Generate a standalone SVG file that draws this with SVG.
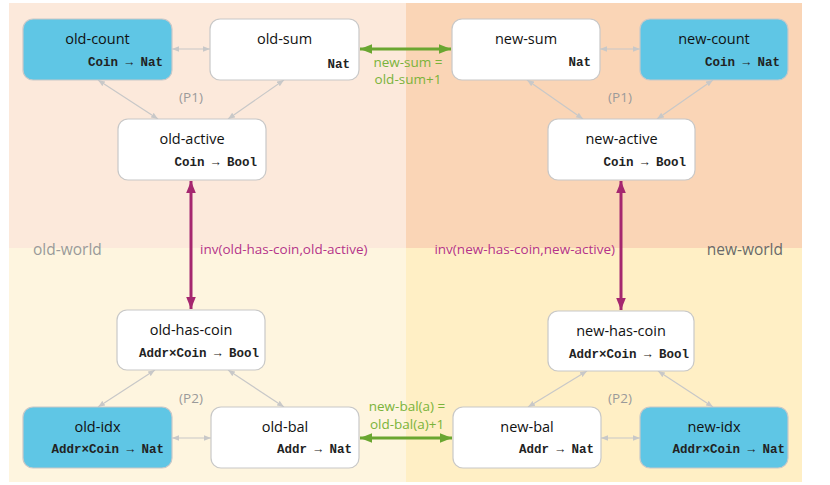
<svg xmlns="http://www.w3.org/2000/svg" width="830" height="485" viewBox="0 0 830 485">
<defs>
<style>
.node rect{stroke:#c8c8c8;stroke-width:1.2}
.w{fill:#ffffff}
.b{fill:#5fc6e5}
.t{font-family:"Open Sans","Noto Sans",sans-serif;font-size:14.5px;fill:#111;text-anchor:middle}
.ty{font-family:"Liberation Mono","Courier New",monospace;font-size:12.5px;font-weight:bold;fill:#222;text-anchor:end}
.g{stroke:#c8c8c8;stroke-width:1.2;fill:none;marker-start:url(#ga);marker-end:url(#ga)}
.p{stroke:#a5276f;stroke-width:3;fill:none;marker-start:url(#pa);marker-end:url(#pa)}
.gr{stroke:#6aa630;stroke-width:3;fill:none;marker-start:url(#gra);marker-end:url(#gra)}
.lbl{font-family:"Open Sans","Noto Sans",sans-serif;font-size:13.5px}
</style>
<marker id="ga" viewBox="0 0 10 10" refX="10" refY="5" markerWidth="7" markerHeight="7" orient="auto-start-reverse" markerUnits="userSpaceOnUse"><path d="M0,1 L10,5 L0,9 z" fill="#c8c8c8"/></marker>
<marker id="pa" viewBox="0 0 10 10" refX="10" refY="5" markerWidth="12" markerHeight="12" orient="auto-start-reverse" markerUnits="userSpaceOnUse"><path d="M0,1 L10,5 L0,9 z" fill="#a5276f"/></marker>
<marker id="gra" viewBox="0 0 10 10" refX="10" refY="5" markerWidth="12" markerHeight="12" orient="auto-start-reverse" markerUnits="userSpaceOnUse"><path d="M0,1 L10,5 L0,9 z" fill="#6aa630"/></marker>
</defs>
<rect width="830" height="485" fill="#ffffff"/>
<g id="background">
<rect x="9" y="3" width="397" height="245" fill="#fce9db"/>
<rect x="406" y="3" width="396" height="245" fill="#fad5b6"/>
<rect x="9" y="248" width="397" height="234" fill="#fef5df"/>
<rect x="406" y="248" width="396" height="234" fill="#ffefc5"/>
<text x="33" y="255" class="lbl" style="font-size:15.5px" fill="#9a9a9a">old-world</text>
<text x="783" y="255" class="lbl" style="font-size:15.5px" fill="#6a6a6a" text-anchor="end">new-world</text>
</g>
<g id="connectors">
<line class="g" x1="172" y1="49" x2="210" y2="49"/>
<line class="g" x1="98" y1="80" x2="158" y2="119"/>
<line class="g" x1="284" y1="80" x2="228" y2="119"/>
<text x="191" y="102" class="lbl" fill="#9a9a9a" text-anchor="middle">(P1)</text>
<line class="g" x1="600" y1="49" x2="640" y2="49"/>
<line class="g" x1="527" y1="80" x2="583" y2="119"/>
<line class="g" x1="713" y1="80" x2="657" y2="119"/>
<text x="620" y="102" class="lbl" fill="#9a9a9a" text-anchor="middle">(P1)</text>
<line class="g" x1="172" y1="438" x2="211" y2="438"/>
<line class="g" x1="155" y1="370" x2="98" y2="407"/>
<line class="g" x1="228" y1="370" x2="284" y2="407"/>
<text x="191" y="403" class="lbl" fill="#9a9a9a" text-anchor="middle">(P2)</text>
<line class="g" x1="601" y1="438" x2="640" y2="438"/>
<line class="g" x1="587" y1="371" x2="528" y2="407"/>
<line class="g" x1="658" y1="371" x2="713" y2="407"/>
<text x="620" y="403" class="lbl" fill="#9a9a9a" text-anchor="middle">(P2)</text>
<line class="p" x1="191" y1="181" x2="191" y2="309"/>
<text x="200" y="254" class="lbl" fill="#b5338a">inv(old-has-coin,old-active)</text>
<line class="p" x1="621" y1="181" x2="621" y2="310"/>
<text x="615" y="254" class="lbl" fill="#b5338a" text-anchor="end">inv(new-has-coin,new-active)</text>
<line class="gr" x1="360" y1="49" x2="451" y2="49"/>
<text x="408" y="67" class="lbl" fill="#7ab33a" text-anchor="middle">new-sum =</text>
<text x="408" y="84" class="lbl" fill="#7ab33a" text-anchor="middle">old-sum+1</text>
<line class="gr" x1="360" y1="438" x2="452" y2="438"/>
<text x="407" y="411" class="lbl" fill="#7ab33a" text-anchor="middle">new-bal(a) =</text>
<text x="407" y="429" class="lbl" fill="#7ab33a" text-anchor="middle">old-bal(a)+1</text>
</g>
<g id="old-count" class="node"><rect class="b" x="23" y="19" width="149" height="61" rx="10"/><text class="t" x="97.5" y="44">old-count</text><text class="ty" x="163" y="66">Coin → Nat</text></g>
<g id="old-sum" class="node"><rect class="w" x="210" y="19" width="149" height="61" rx="10"/><text class="t" x="284.5" y="44">old-sum</text><text class="ty" x="350" y="68">Nat</text></g>
<g id="old-active" class="node"><rect class="w" x="118" y="119" width="148" height="61" rx="10"/><text class="t" x="192" y="144">old-active</text><text class="ty" x="257" y="166">Coin → Bool</text></g>
<g id="new-sum" class="node"><rect class="w" x="452" y="19" width="148" height="61" rx="10"/><text class="t" x="526" y="44">new-sum</text><text class="ty" x="591" y="66">Nat</text></g>
<g id="new-count" class="node"><rect class="b" x="640" y="19" width="148" height="61" rx="10"/><text class="t" x="714" y="44">new-count</text><text class="ty" x="780" y="66">Coin → Nat</text></g>
<g id="new-active" class="node"><rect class="w" x="548" y="119" width="147" height="61" rx="10"/><text class="t" x="621.5" y="144">new-active</text><text class="ty" x="686" y="166">Coin → Bool</text></g>
<g id="old-has-coin" class="node"><rect class="w" x="117" y="310" width="148" height="60" rx="10"/><text class="t" x="191" y="335">old-has-coin</text><text class="ty" x="259" y="357">Addr×Coin → Bool</text></g>
<g id="new-has-coin" class="node"><rect class="w" x="548" y="311" width="146" height="60" rx="10"/><text class="t" x="621" y="336">new-has-coin</text><text class="ty" x="689" y="358">Addr×Coin → Bool</text></g>
<g id="old-idx" class="node"><rect class="b" x="23" y="407" width="149" height="61" rx="10"/><text class="t" x="97.5" y="432">old-idx</text><text class="ty" x="164" y="453">Addr×Coin → Nat</text></g>
<g id="old-bal" class="node"><rect class="w" x="211" y="407" width="148" height="61" rx="10"/><text class="t" x="285" y="432">old-bal</text><text class="ty" x="352" y="453">Addr → Nat</text></g>
<g id="new-bal" class="node"><rect class="w" x="453" y="407" width="148" height="61" rx="10"/><text class="t" x="527" y="432">new-bal</text><text class="ty" x="594" y="453">Addr → Nat</text></g>
<g id="new-idx" class="node"><rect class="b" x="640" y="407" width="148" height="61" rx="10"/><text class="t" x="714" y="432">new-idx</text><text class="ty" x="785" y="453">Addr×Coin → Nat</text></g>
</svg>
